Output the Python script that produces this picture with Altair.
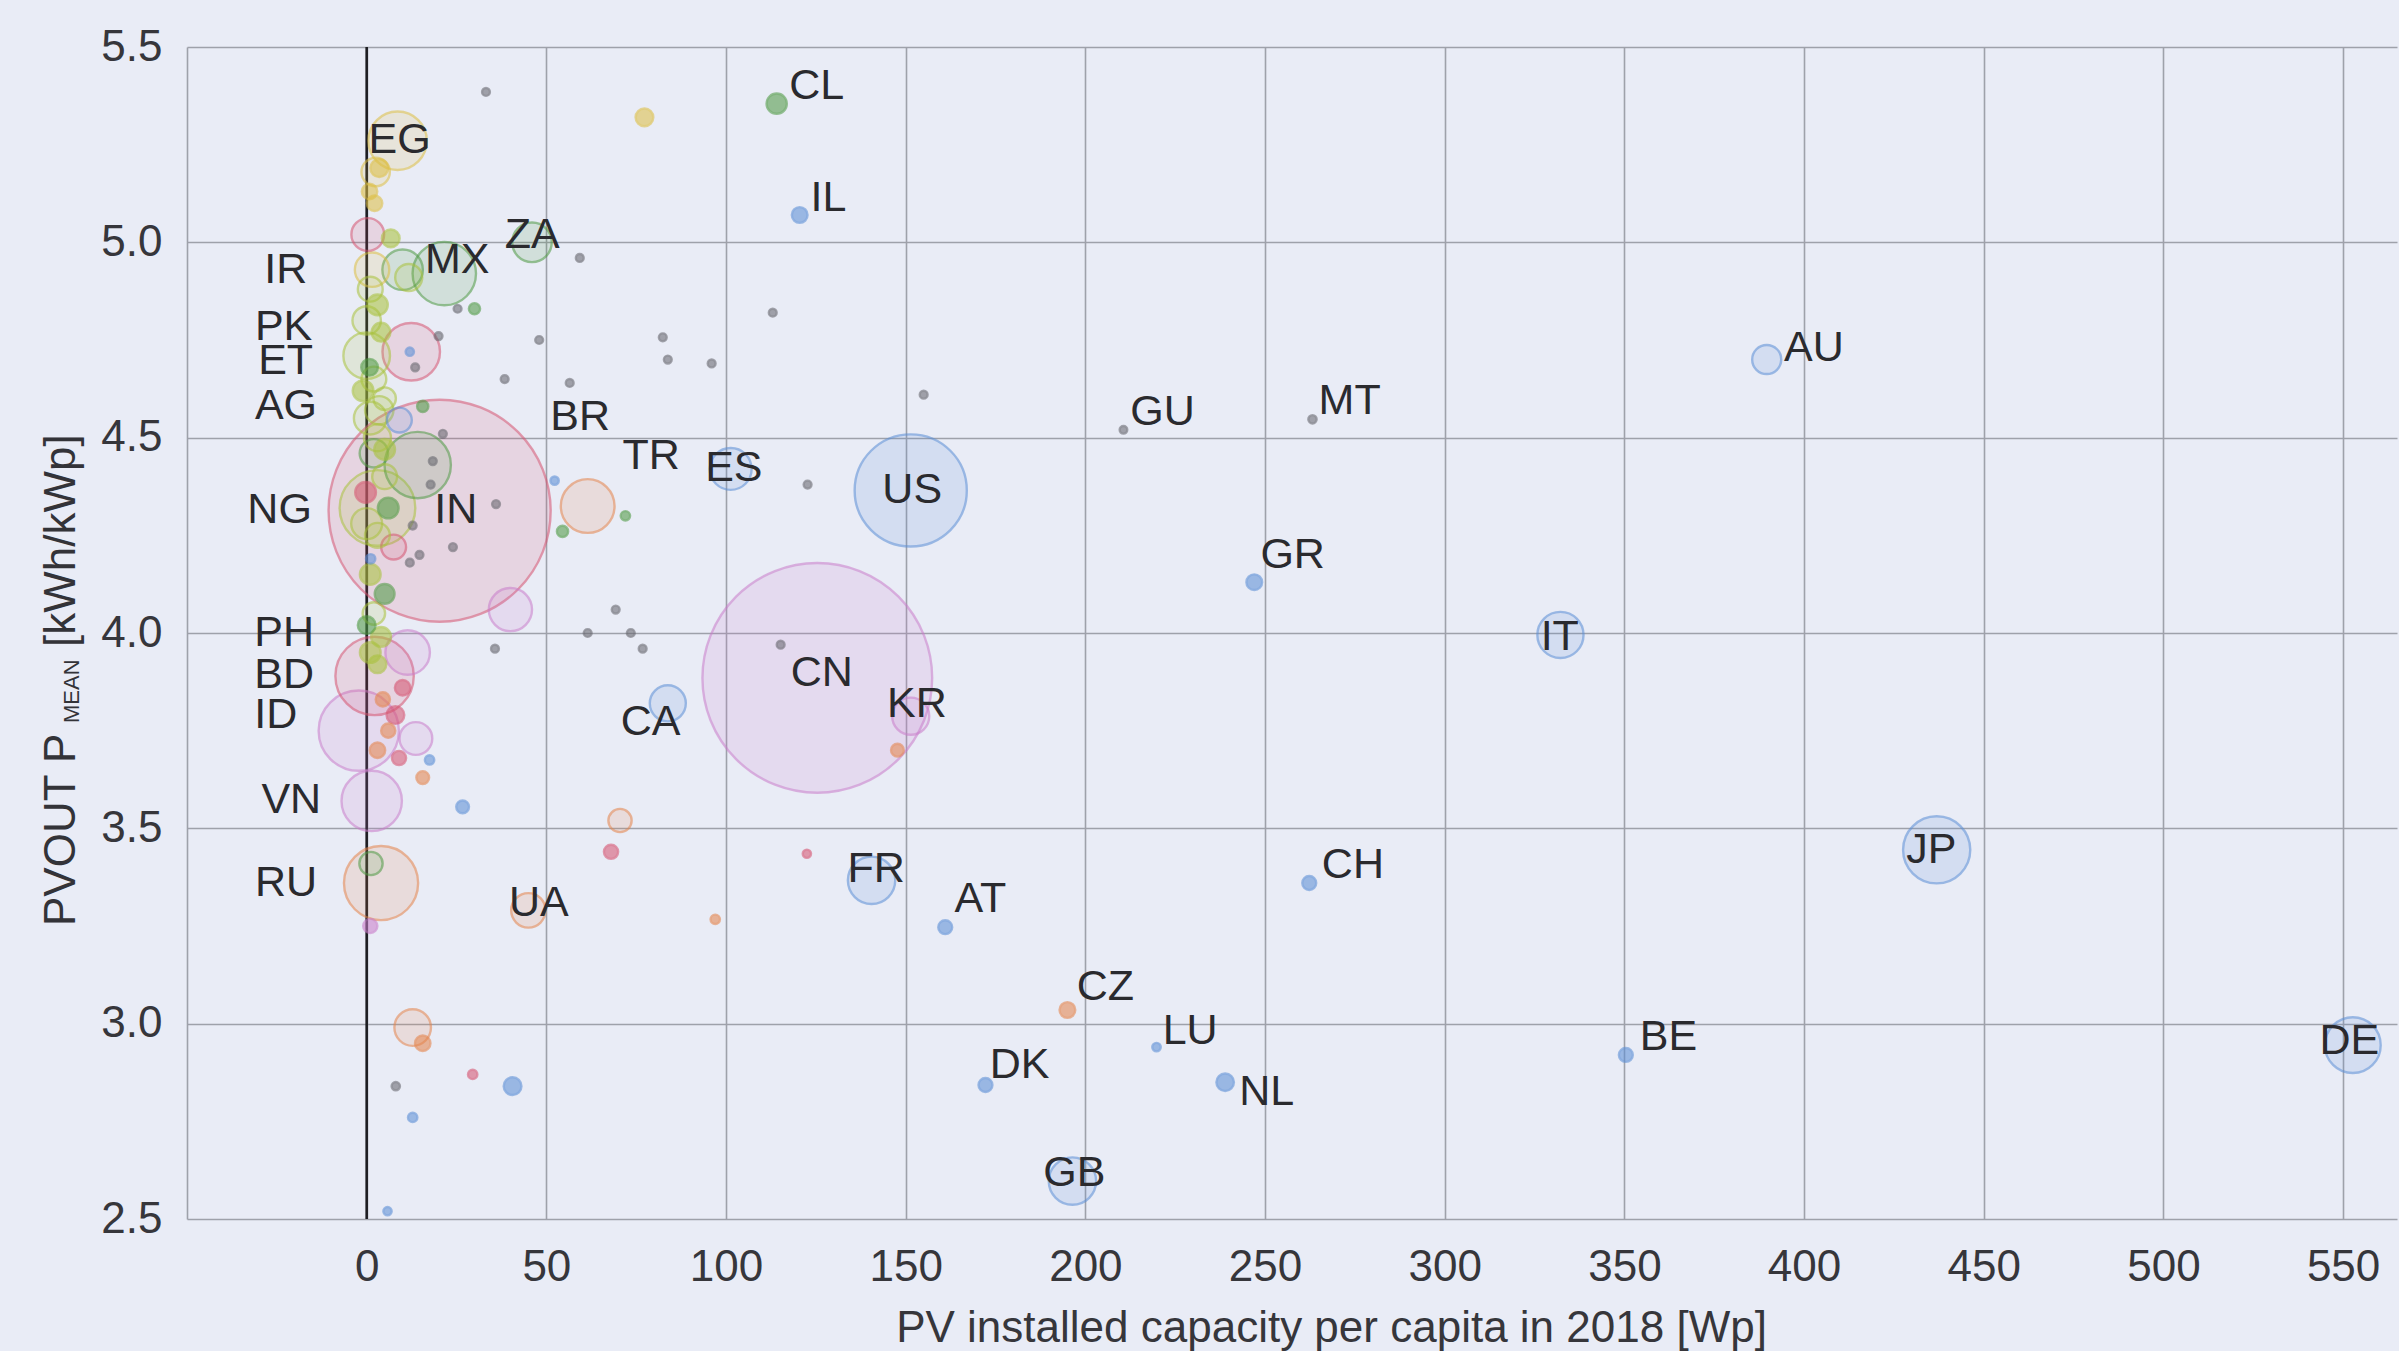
import altair as alt
import pandas as pd

FONT = "Liberation Sans, Arial, sans-serif"

# --- country bubbles: PV capacity per capita (Wp), mean PVOUT (kWh/kWp), population (millions), group
named_codes = [
    "CL", "IL", "EG", "ZA", "MX", "IR", "PK", "ET", "AG", "BR",
    "TR", "ES", "US", "NG", "IN", "GU", "MT", "AU", "GR", "IT",
    "PH", "CN", "BD", "KR", "ID", "CA", "VN", "FR", "CH", "JP",
    "RU", "UA", "AT", "CZ", "LU", "BE", "DE", "DK", "NL", "GB",
]
pv_per_capita = [
    114.1, 120.5, 8.6, 46.0, 21.6, 1.5, 12.4, 0.0, 3.5, 14.2,
    61.5, 101.3, 151.4, 3.0, 20.3, 210.6, 263.2, 389.6, 247.0, 332.2,
    11.4, 125.4, 2.2, 151.4, -2.2, 83.8, 1.4, 140.5, 262.3, 436.9,
    4.0, 45.0, 161.0, 195.0, 219.8, 350.4, 552.7, 172.2, 238.9, 196.4,
    2.5, 0.8, 2.2, 3.5, 0.3, 6.7, 10.0, 11.7, 1.0, 3.0,
    0.0, 4.0, 2.0, -1.0, 5.0, 1.0, 3.0, 5.0, 12.0, 13.5,
    20.0, 15.6, 0.8, 9.1, -0.3, 7.5, 2.0, 5.0, 0.0, 6.0,
    3.0, 1.0, 5.0, 2.0, 4.0, 0.0, 1.0, 3.0, 12.8, 14.7,
    12.0, 18.4, 21.2, 17.8, 36.0, 24.0, 1.1, 40.0, 35.7, 69.3,
    61.5, 73.5, 76.8, 72.0, 54.5, 52.3, 4.5, 8.0, 10.0, 6.0,
    3.0, 9.0, 13.7, 15.6, 17.5, 26.7, 70.5, 1.2, 1.0, 68.0,
    12.8, 15.6, 29.5, 40.6, 8.1, 12.8, 5.8, 33.2, 77.3, 59.3,
    25.3, 48.0, 82.4, 83.8, 38.4, 56.5, 113.0, 96.0, 155.0, 122.7,
    115.2, 30.0, 122.5, 97.0, 147.7,
]
pvout_mean = [
    5.355, 5.07, 5.26, 5.00, 4.92, 4.93, 4.72, 4.71, 4.57, 4.43,
    4.325, 4.42, 4.365, 4.32, 4.313, 4.52, 4.547, 4.70, 4.13, 3.995,
    3.95, 3.885, 3.89, 3.787, 3.75, 3.82, 3.57, 3.367, 3.36, 3.445,
    3.36, 3.29, 3.247, 3.035, 2.94, 2.92, 2.945, 2.843, 2.85, 2.597,
    5.18, 5.13, 5.10, 5.19, 5.02, 5.01, 4.93, 4.91, 4.88, 4.84,
    4.80, 4.77, 4.65, 4.62, 4.60, 4.55, 4.50, 4.47, 4.72, 4.68,
    4.76, 4.58, 4.68, 4.545, 4.36, 4.22, 4.46, 4.40, 4.28, 4.32,
    4.25, 4.15, 4.10, 4.05, 3.99, 4.02, 3.95, 3.92, 4.275, 4.20,
    4.18, 4.44, 4.51, 4.38, 4.33, 4.22, 4.19, 4.06, 3.96, 4.06,
    4.00, 4.00, 3.96, 4.30, 4.26, 4.39, 3.83, 3.79, 3.86, 3.75,
    3.70, 3.68, 3.73, 3.63, 3.675, 3.555, 3.52, 3.41, 3.25, 3.44,
    2.99, 2.95, 2.87, 2.84, 2.84, 2.76, 2.52, 5.385, 5.32, 4.96,
    4.83, 4.75, 4.757, 4.70, 4.65, 4.64, 4.82, 4.69, 4.61, 4.38,
    3.97, 4.83, 3.435, 3.267, 3.70,
]
population_m = [
    9.5, 5.2, 89, 40, 105, 30, 86, 56, 20, 115,
    75, 45, 331, 150, 1302, 0.2, 0.5, 21, 5.2, 55,
    51, 1393, 161, 35, 169, 33, 95, 58, 3.8, 118,
    144, 30, 3.8, 5.2, 0.6, 3.8, 81, 3.8, 6.8, 58,
    20, 5, 5, 7, 27, 7, 42, 18, 15, 10,
    20, 8, 15, 10, 12, 27, 18, 10, 0.5, 0.3,
    0.3, 2, 6, 15, 10, 15, 20, 15, 24, 10,
    15, 10, 9, 12, 9, 7, 10, 7, 0.3, 0.3,
    0.3, 0.3, 0.3, 0.3, 0.3, 0.3, 1, 48, 0.3, 0.3,
    0.3, 0.3, 0.3, 1, 2, 0.5, 4, 7, 5, 4,
    5, 4, 27, 3, 1, 3, 13, 13, 4, 4,
    34, 5, 1, 7, 0.5, 1, 0.5, 0.3, 7, 0.3,
    0.3, 0.3, 0.3, 0.3, 0.3, 0.3, 0.3, 0.3, 0.3, 0.3,
    0.3, 2, 0.5, 1, 3,
]
group = [
    "green", "blue", "yellow", "green", "green", "yellow", "red", "lime", "lime", "green",
    "orange", "blue", "blue", "lime", "red", "gray", "gray", "blue", "blue", "blue",
    "purple", "purple", "red", "purple", "purple", "blue", "purple", "blue", "blue", "blue",
    "orange", "orange", "blue", "orange", "blue", "blue", "blue", "blue", "blue", "blue",
    "yellow", "yellow", "yellow", "yellow", "red", "lime", "green", "lime", "lime", "lime",
    "lime", "lime", "lime", "lime", "lime", "lime", "lime", "lime", "blue", "gray",
    "gray", "green", "green", "blue", "red", "red", "green", "lime", "lime", "green",
    "lime", "lime", "green", "lime", "lime", "green", "lime", "lime", "gray", "gray",
    "gray", "gray", "gray", "gray", "gray", "gray", "blue", "purple", "gray", "gray",
    "gray", "gray", "gray", "green", "green", "blue", "orange", "red", "red", "orange",
    "orange", "red", "purple", "orange", "blue", "blue", "orange", "green", "purple", "red",
    "orange", "orange", "red", "blue", "gray", "blue", "blue", "gray", "yellow", "gray",
    "gray", "gray", "gray", "gray", "gray", "gray", "gray", "gray", "gray", "gray",
    "gray", "green", "red", "orange", "orange",
]
codes = named_codes + [f"other{i}" for i in range(len(pv_per_capita) - len(named_codes))]

group_keys = ["blue", "purple", "red", "green", "lime", "yellow", "orange", "gray"]
group_colors = ["#5b8ed6", "#c97dcb", "#d65470", "#4f9a44", "#a9c23c", "#ddbf45", "#e5854c", "#66666e"]

# --- country code labels (anchor = left edge, vertical middle, in data units)
label_text = named_codes
label_x = [
    117.6, 123.5, 0.5, 38.4, 16.2, -28.5, -31.1, -30.2, -31.1, 51.1,
    71.2, 94.2, 143.5, -33.2, 18.8, 212.5, 264.9, 394.4, 248.7, 326.7,
    -31.3, 118.0, -31.3, 144.8, -31.3, 70.7, -29.3, 133.8, 265.8, 428.4,
    -31.1, 39.6, 163.6, 197.6, 221.5, 354.3, 543.4, 173.4, 242.8, 188.3,
]
label_y = [
    5.40, 5.114, 5.263, 5.02, 4.954, 4.93, 4.782, 4.695, 4.582, 4.554,
    4.453, 4.422, 4.367, 4.316, 4.316, 4.565, 4.595, 4.73, 4.20, 3.99,
    3.999, 3.897, 3.893, 3.819, 3.791, 3.771, 3.572, 3.396, 3.405, 3.445,
    3.361, 3.31, 3.318, 3.094, 2.98, 2.965, 2.955, 2.895, 2.824, 2.617,
]

x_ticks = [-50, 0, 50, 100, 150, 200, 250, 300, 350, 400, 450, 500, 550]
y_ticks = [2.5, 3.0, 3.5, 4.0, 4.5, 5.0, 5.5]

bubbles_df = pd.DataFrame({
    "code": codes,
    "pv": pv_per_capita,
    "pvout": pvout_mean,
    "pop": population_m,
    "group": group,
})
labels_df = pd.DataFrame({"text": label_text, "lx": label_x, "ly": label_y})

x_scale = alt.Scale(domain=[-50, 565], nice=False, zero=False)
y_scale = alt.Scale(domain=[2.5, 5.5], nice=False, zero=False)
color_scale = alt.Scale(domain=group_keys, range=group_colors)

X_TITLE = "PV installed capacity per capita in 2018 [Wp]"

x_axis = alt.Axis(
    values=x_ticks,
    labelExpr="datum.value < 0 ? '' : datum.label",
    format="d",
    grid=True,
    ticks=False,
    domain=False,
    labelPadding=26,
    title=X_TITLE,
    titleX=1144,
    titleY=122,
    titleAlign="center",
    titleBaseline="alphabetic",
)
y_axis = alt.Axis(
    values=y_ticks,
    format=".1f",
    grid=True,
    ticks=False,
    domain=False,
    labelPadding=25,
    labelBaseline="middle",
    title="",
)

zero_line = alt.Chart(pd.DataFrame({"v": [0]})).mark_rule(
    color="#1d1d22", strokeWidth=2.6
).encode(x=alt.X("v:Q", scale=x_scale, axis=x_axis, title=X_TITLE))

bubbles = alt.Chart(bubbles_df).mark_circle(strokeWidth=2.4, strokeOpacity=0.8).encode(
    x=alt.X("pv:Q", scale=x_scale, axis=x_axis, title=X_TITLE),
    y=alt.Y("pvout:Q", scale=y_scale, axis=y_axis, title=""),
    size=alt.Size("pop:Q", scale=alt.Scale(domain=[0, 1393], range=[50, 52766]), legend=None),
    color=alt.Color("group:N", scale=color_scale, legend=None),
    stroke=alt.Stroke("group:N", scale=color_scale, legend=None),
    fillOpacity=alt.condition("datum.pop < 11", alt.value(0.8), alt.value(0.22)),
    order=alt.Order("pop:Q", sort="descending"),
)

labels = alt.Chart(labels_df).mark_text(
    align="left", baseline="middle", fontSize=43, font=FONT, color="#2a2a2e"
).encode(
    x=alt.X("lx:Q", scale=x_scale, axis=x_axis, title=X_TITLE),
    y=alt.Y("ly:Q", scale=y_scale, axis=y_axis, title=""),
    text="text:N",
)


def title_piece(txt, size, px, py):
    # one rotated segment of the y-axis title
    return alt.Chart(pd.DataFrame({"t": [txt]})).mark_text(
        angle=270, align="left", baseline="alphabetic", fontSize=size, font=FONT, color="#333338"
    ).encode(x=alt.value(px), y=alt.value(py), text="t:N")


y_title = (
    title_piece("PVOUT P", 44, -112, 879)
    + title_piece("MEAN", 22, -108, 676)
    + title_piece("[kWh/kWp]", 44, -112, 600)
)

chart = alt.layer(zero_line, bubbles, labels, y_title).properties(
    width=2210,
    height=1172,
    padding={"left": 187, "top": 47, "right": 2, "bottom": 132},
    autosize=alt.AutoSizeParams(type="none"),
).configure(
    background="#e9ecf6",
    font=FONT,
).configure_view(
    strokeWidth=0,
).configure_axis(
    gridColor="#9ea1aa",
    gridWidth=1.6,
    gridOpacity=1,
    labelFont=FONT,
    labelFontSize=44,
    labelColor="#36363b",
    titleFont=FONT,
    titleFontSize=44,
    titleFontWeight="normal",
    titleColor="#36363b",
)

chart.save("out.html", embed_options={"renderer": "svg", "actions": False})
